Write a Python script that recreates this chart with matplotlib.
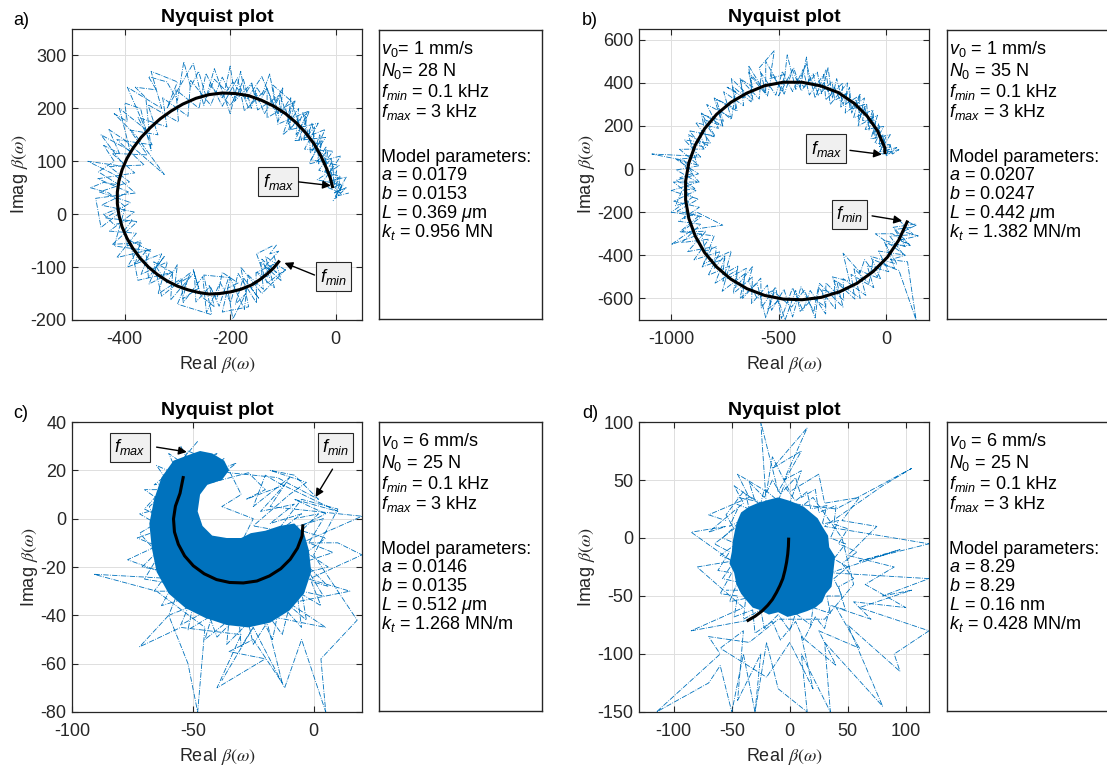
import numpy as np
import matplotlib
matplotlib.use('Agg')
from matplotlib import pyplot as plt

# Fuentes: estilo MATLAB (Helvetica ~ Liberation Sans)
plt.rcParams['font.family'] = ['Liberation Sans', 'DejaVu Sans']
plt.rcParams['mathtext.fontset'] = 'custom'
plt.rcParams['mathtext.rm'] = 'Liberation Sans'
plt.rcParams['mathtext.it'] = 'Liberation Sans:italic'
plt.rcParams['mathtext.bf'] = 'Liberation Sans:bold'
plt.rcParams['axes.unicode_minus'] = False

BLUE = '#0072BD'
DARK = '#262626'

# ---------------- Datos ----------------
# Panel a) medicion: excursiones grandes
a_re = [-112, -125, -108, -135, -112, -140, -125, -150, -118, -160, -145, -175, -190, -170, -195, -205,
        -185, -215, -225, -240, -230, -255, -270, -260, -290, -280, -305, -300, -320, -340, -325, -355,
        -360, -380, -370, -395, -400, -385, -420, -440, -400, -430, -465, -440, -410, -450, -420, -440,
        -410, -430, -400, -325, -380, -420, -395, -400, -370, -350, -360, -380, -340, -355, -320, -300,
        -288, -275, -260, -245, -230, -210, -200, -190, -175, -160, -150, -140, -125, -115, -100, -105,
        -85, -90, -70, -75, -55, -60, -40, -45, -25, -35, -15, -20, -5, -10, 5, -2, 20, 0, 12, 5, 25]
a_im = [-58, -75, -70, -100, -110, -85, -120, -110, -95, -140, -160, -120, -170, -150, -198, -140,
        -130, -110, -160, -135, -175, -155, -105, -140, -160, -120, -135, -95, -130, -100, -80, -120,
        -70, -95, -50, -60, -30, -10, -20, 0, 15, 40, 50, 60, 55, 80, 100, 130,
        115, 160, 140, 75, 150, 190, 175, 210, 200, 120, 220, 240, 235, 260, 250, 215,
        288, 240, 270, 220, 255, 235, 280, 215, 255, 200, 240, 225, 265, 210, 240, 190,
        220, 170, 200, 150, 185, 140, 165, 120, 140, 100, 120, 80, 100, 60, 70, 40, 50, 30, 55, 35, 40]
# Panel a) banda densa arriba a la derecha
a_re2 = [-240, -215, -195, -175, -160, -145, -130, -118, -105, -92, -82, -70, -62, -52, -45, -38,
         -30, -28, -18, -20, -8, -10, 2, -4, 10, 0, 15]
a_im2 = [245, 220, 250, 222, 245, 212, 238, 200, 225, 185, 210, 170, 192, 150, 172, 128,
         150, 110, 128, 92, 105, 70, 82, 50, 58, 42, 48]
a_re3 = [-220, -200, -180, -165, -150, -135, -120, -110, -95, -85, -72, -65, -50, -48, -35, -32,
         -22, -15, -5, -3, 8, 2]
a_im3 = [230, 205, 238, 200, 228, 190, 215, 175, 200, 160, 182, 140, 160, 115, 135, 95,
         112, 75, 88, 55, 65, 35]
# Panel a) zigzag fino a lo largo de todo el arco
a_re4 = [-95, -133, -116, -151, -150, -185, -199, -219, -245, -252, -289, -293, -337, -319, -369, -351,
         -415, -378, -429, -382, -444, -393, -451, -381, -424, -357, -390, -337, -356, -298, -303, -259,
         -246, -215, -186, -173, -130, -130, -77, -89, -33, -59, -5, -32, 10, -16, 10]
a_im4 = [-106, -80, -139, -110, -168, -112, -167, -129, -186, -118, -167, -122, -151, -90, -114, -67,
         -82, -36, -32, 4, 17, 42, 67, 78, 115, 112, 159, 150, 207, 174, 235, 200,
         266, 204, 258, 195, 238, 182, 214, 159, 172, 123, 119, 83, 71, 51, 40]
a_re5 = [-117, -103, -142, -137, -166, -173, -202, -221, -238, -265, -268, -313, -309, -354, -330, -395,
         -368, -423, -376, -436, -389, -448, -391, -429, -363, -415, -348, -375, -320, -328, -280, -275,
         -237, -215, -192, -159, -148, -105, -110, -53, -77, -19, -47, 7, -35, 14, 0]
a_im5 = [-78, -126, -91, -142, -115, -180, -117, -174, -136, -166, -110, -162, -109, -132, -75, -100,
         -54, -57, -14, -7, 22, 42, 61, 90, 93, 141, 131, 183, 165, 220, 185, 253,
         206, 259, 213, 248, 197, 226, 170, 194, 139, 145, 103, 92, 65, 55, 35]
# Panel a) trazo irregular con retrocesos
a_re6 = [-120, -150, -130, -95, -140, -180, -165, -215, -200, -250, -235, -300, -275, -330, -345, -310,
         -375, -390, -350, -420, -400, -445, -455, -380, -420, -470, -400, -445, -390, -410, -360, -395,
         -330, -350, -300, -320, -270, -250, -230, -200, -180, -170, -140, -110, -120, -80, -100, -50,
         -70, -20, -50, 10, -25, 20, -5]
a_im6 = [-60, -75, -130, -105, -150, -100, -175, -185, -120, -115, -190, -170, -110, -155, -90, -110,
         -125, -50, -70, -60, 10, -25, 30, 40, 75, 100, 90, 150, 120, 200, 160, 240,
         200, 270, 250, 200, 285, 205, 275, 190, 270, 215, 260, 190, 245, 210, 150, 195,
         140, 160, 95, 110, 60, 70, 25]
# Panel a) modelo
a_mod_re = [-108, -118, -130, -144, -160, -180, -200, -220, -240, -260, -280, -300, -320, -338, -355,
            -371, -385, -396, -405, -411, -414, -414, -411, -405, -396, -384, -369, -352, -333, -312,
            -290, -265, -240, -215, -190, -165, -140, -117, -95, -75, -57, -41, -28, -17, -10, -6]
a_mod_im = [-90, -102, -113, -124, -134, -142, -147, -150, -151, -148, -143, -136, -126, -114, -100,
            -83, -64, -45, -24, -2, 20, 42, 63, 84, 105, 125, 145, 163, 180, 195,
            208, 219, 226, 229, 228, 224, 215, 204, 190, 173, 154, 133, 110, 86, 68, 52]

# Panel b) medicion: excursiones grandes
b_re = [100, 140, 80, 150, 60, 110, 30, -50, 90, 20, 100, 140, 60, -20, -40, -100, -120, -200,
        -170, -250, -220, -300, -280, -340, -400, -420, -470, -500, -550, -520, -600, -640, -620,
        -700, -690, -760, -750, -800, -790, -840, -860, -1000, -900, -760, -880, -940, -920, -980,
        -950, -890, -960, -900, -940, -1090, -880, -910, -840, -870, -800, -850, -760, -780, -720,
        -700, -740, -660, -680, -620, -640, -560, -590, -520, -540, -470, -500, -430, -400, -370,
        -360, -320, -300, -270, -250, -230, -200, -170, -160, -120, -130, -90, -80, -60, -50, -30,
        -30, -10, 0, 20, 30, 60, 10]
b_im = [-245, -260, -290, -310, -330, -350, -300, -300, -400, -420, -430, -700, -470, -440, -500,
        -420, -480, -390, -520, -500, -580, -560, -640, -600, -660, -560, -700, -610, -650, -560,
        -600, -520, -450, -550, -450, -490, -400, -460, -360, -380, -300, -350, -280, -260, -200,
        -230, -150, -170, -100, -90, -40, -20, 40, 70, 60, 120, 100, 170, 150, 230, 200, 280, 230,
        360, 380, 330, 420, 380, 450, 360, 470, 550, 420, 440, 340, 470, 380, 520, 400, 450, 350,
        470, 330, 420, 300, 380, 260, 350, 220, 300, 180, 260, 140, 200, 100, 140, 60, 110, 70, 90, 80]
# Panel b) banda densa arriba a la derecha
b_re2 = [-420, -380, -350, -320, -290, -260, -240, -210, -190, -160, -140, -120, -100, -80, -65,
         -50, -35, -25, -15, -5, 10]
b_im2 = [420, 380, 420, 360, 400, 340, 380, 310, 350, 280, 320, 250, 290, 210, 250, 170, 210,
         130, 160, 90, 110]
# Panel b) zigzag fino a lo largo del arco
b_re4 = [137, 33, 113, -1, 51, -71, -25, -125, -94, -200, -197, -280, -281, -353, -387, -435, -487,
         -514, -581, -583, -668, -658, -763, -728, -828, -772, -894, -825, -951, -863, -966, -869,
         -988, -885, -978, -873, -976, -863, -938, -816, -886, -780, -835, -722, -756, -663, -677,
         -590, -581, -513, -483, -435, -386, -357, -290, -281, -201, -211, -122, -151, -60, -97, -11,
         -52, 21, -23, 30]
b_im4 = [-255, -270, -355, -350, -441, -405, -510, -470, -586, -508, -610, -528, -672, -563, -656,
         -551, -693, -547, -644, -506, -600, -486, -567, -449, -493, -383, -421, -325, -341, -256,
         -242, -177, -149, -100, -52, -22, 45, 56, 135, 120, 216, 189, 300, 241, 359, 294, 416,
         325, 445, 343, 453, 360, 463, 344, 439, 322, 400, 288, 342, 238, 274, 184, 198, 121, 113,
         70, 75]
b_re5 = [59, 127, 18, 82, -35, 13, -88, -57, -163, -145, -241, -235, -315, -336, -396, -435, -475,
         -533, -552, -626, -622, -711, -694, -796, -750, -856, -808, -924, -838, -961, -870, -972,
         -873, -1000, -878, -976, -870, -961, -847, -916, -796, -856, -757, -792, -693, -715, -628,
         -627, -552, -531, -474, -435, -394, -339, -316, -251, -239, -171, -168, -99, -109, -47, -60,
         0, -24, 10, 0]
b_im5 = [-235, -304, -311, -398, -380, -476, -447, -550, -488, -603, -515, -650, -547, -661, -546,
         -686, -558, -655, -538, -624, -501, -577, -469, -529, -415, -454, -361, -383, -288, -292,
         -216, -195, -139, -100, -61, -4, 16, 92, 93, 178, 153, 253, 222, 325, 269, 385, 312, 428,
         339, 441, 348, 460, 363, 442, 343, 406, 319, 358, 276, 300, 225, 226, 164, 151, 92, 85, 65]
# Panel b) trazo irregular con retrocesos
b_re6 = [120, 40, 90, -10, 40, -60, -80, -150, -120, -230, -200, -310, -330, -380, -440, -520, -560,
         -600, -680, -650, -760, -720, -850, -800, -950, -860, -1000, -900, -990, -870, -960, -880,
         -920, -830, -860, -760, -800, -700, -720, -620, -640, -560, -560, -480, -460, -420, -370,
         -330, -280, -260, -180, -190, -100, -130, -40, -70, 20, -30, 50, 0]
b_im6 = [-270, -280, -360, -330, -460, -420, -530, -460, -600, -520, -640, -530, -690, -560, -640,
         -570, -690, -530, -600, -460, -520, -380, -440, -310, -290, -220, -200, -130, -60, -60, 40,
         20, 160, 110, 260, 200, 330, 280, 420, 320, 480, 350, 500, 360, 530, 370, 490, 330, 460,
         300, 400, 260, 330, 200, 250, 140, 160, 80, 100, 60]
# Panel b) modelo
b_mod_re = [98, 59, 6, -60, -134, -216, -302, -391, -479, -565, -647, -723, -789, -845, -888, -918,
            -933, -933, -918, -888, -845, -789, -722, -647, -565, -479, -391, -304, -222, -148, -88,
            -40, -6, -5]
b_mod_im = [-245, -330, -409, -475, -529, -569, -595, -606, -603, -586, -555, -510, -454, -387,
            -311, -229, -144, -56, 29, 112, 187, 254, 310, 353, 387, 403, 403, 386, 355, 305, 246,
            178, 100, 77]

# Panel c) nucleo denso (contorno) y trazos dispersos
c_core_re = [-50, -58, -63, -66, -68, -67, -65, -60, -53, -45, -36, -27, -18, -10, -4, -1, -2, -4,
             -8, -14, -20, -26, -30, -36, -42, -46, -48, -47, -44, -38, -35, -37, -42, -47]
c_core_im = [27, 24, 17, 8, -2, -12, -22, -31, -37, -41, -44, -45, -43, -38, -31, -22, -13, -6,
             -2, -3, -5, -6, -8, -8, -7, -3, 3, 10, 14, 16, 20, 24, 27, 28]
c_re = [-5, 5, -8, 10, -15, -20, -25, -10, -18, 20, -5, 10, 20, -2, 15, -10, 5, -20, -13, -25,
        -35, -20, -40, -30, -55, -72, -60, -52, -48, -45, -65, -91, -55, -77, -62, -68, -60, -66,
        -55, -52, -45, -40, -47, -35, -30, -38, -25, -30, -15, -5, 10, 0, 18, 3, 5, -5, -12, -25, -38]
c_im = [-3, 2, 8, 3, 15, 18, 5, 17, 5, 1, -10, -10, -15, -25, -30, -35, -45, -40, -68, -50, -55,
        -58, -70, -48, -45, -53, -40, -60, -80, -45, -30, -23, -25, -17, -10, 5, 12, -5, 22, 28, 25,
        27, 18, 20, 10, 5, 0, -10, -5, 8, 4, -15, -42, -58, -80, -50, -70, -45, -67]
c_re2 = [-55, -50, -60, -56, -65, -58, -70, -60, -72, -62, -73, -63, -71, -60, -66, -56, -60, -50,
         -52, -42, -45, -35, -36, -27, -25, -18, -13, -10, -3, -5, 4, -2, 6, -3, 5, -5, 2, -8]
c_im2 = [30, 20, 27, 18, 22, 12, 12, 5, 2, -4, -8, -12, -20, -22, -30, -30, -40, -36, -46, -40,
         -50, -42, -52, -43, -52, -41, -48, -36, -42, -30, -32, -22, -20, -14, -8, -5, 2, 0]
c_re3 = [-37, -45, -32, -42, -27, -20, -28, -12, -22, -8, -18, -5, -14, -25, -10, -3, -18, -8, 2,
         -15, -35, -52]
c_im3 = [25, 18, 23, 15, 19, 12, 8, 14, 3, 6, -2, 2, -5, -3, 10, 15, 20, 18, 8, 17, 19, 25]
c_re4 = [-48, -58, -52, -66, -60, -70, -62, -72, -64, -70, -58, -63, -50, -55, -44, -40, -31, -30,
         -22, -17, -14, -5, -7, 3, -1, 6, -4, 8, -2, 4, -10]
c_im4 = [32, 20, 25, 14, 15, 4, 0, -6, -15, -25, -27, -36, -32, -44, -38, -49, -40, -53, -40, -50,
         -35, -45, -30, -36, -26, -28, -18, -14, -10, 0, -4]
c_mod_re = [-54, -55.3, -57.2, -58, -57.6, -56, -53.4, -49.8, -45.3, -40.2, -34.8, -29.1, -23.5,
            -18.3, -13.6, -9.7, -6.7, -4.8, -4.5]
c_mod_im = [17, 10.5, 5.2, -0.1, -5.5, -10.6, -15.4, -19.5, -22.8, -25.2, -26.4, -26.6, -25.8,
            -23.7, -20.7, -16.8, -12.2, -7.2, -3]

# Panel d) nucleo denso y trazos dispersos
d_core_re = [-42, -35, -28, -18, -10, 0, 5, 12, 18, 24, 28, 33, 34, 39, 38, 37, 36, 31, 28, 22,
             15, 6, -2, -10, -18, -26, -32, -38, -42, -46, -48, -52, -50, -49, -47, -45]
d_core_im = [22, 27, 30, 33, 35, 32, 30, 27, 22, 17, 10, 2, -8, -16, -25, -34, -42, -48, -55,
             -60, -63, -66, -68, -64, -66, -62, -60, -53, -48, -40, -30, -22, -12, -2, 8, 15]
d_re = [-36, -85, -40, -80, -50, -85, -55, -70, -40, -48, -20, -25, -10, 10, -15, 15, -5, 10, 0,
        40, 105, 80, 30, 120, 60, 95, 35, 120, 80, 105, 60, 120, 90, 95, 50, 80, 30, 35, 10, 15,
        -10, -20, -30, -40, -50, -60, -70, -115, -60, -70, -35, -10, 30, 55, 45, 20, -5, -30, -55]
d_im = [-71, -80, -60, -25, -20, 5, 10, 5, 30, 45, 25, 100, 40, 75, 60, 95, 50, 58, 30, 25, 60, 45,
        10, -5, -20, -10, -30, -35, -50, -45, -60, -80, -100, -115, -75, -145, -90, -150, -100, -150,
        -130, -90, -150, -100, -150, -110, -125, -150, -100, -85, -90, -70, -70, -40, 0, 35, 15, -45, -45]
d_re2 = [-45, -52, -42, -58, -46, -60, -48, -58, -45, -52, -38, -40, -25, -22, -10, 0, 5, 18, 20,
         35, 32, 45, 38, 50, 38, 48, 35, 42, 28, 32, 18, 15, 5, -5, -10, -22, -25, -38, -35, -48]
d_im2 = [25, 10, 15, 0, -5, -15, -20, -35, -38, -55, -52, -70, -62, -78, -66, -80, -65, -75, -60,
         -65, -50, -50, -35, -25, -18, -5, 0, 15, 12, 28, 25, 40, 32, 45, 32, 42, 30, 38, 25, 30]
d_re3 = [-30, -25, -45, -40, -60, -20, 0, 20, 10, 40, 25, 60, 40, 70, 55, 100, 65, 90, 50, 75, 45,
         60, 30, 25, 0, -15, -20, -45, -35, -70, -55]
d_im3 = [-150, -100, -140, -80, -95, -120, -90, -130, -85, -110, -80, -95, -60, -70, -55, -60, -40,
         -25, -15, 10, 15, 35, 30, 55, 40, 70, 40, 55, 35, 20, 15]
d_re4 = [-40, -55, -48, -65, -52, -62, -50, -60, -45, -48, -32, -30, -15, -8, 5, 12, 22, 30, 35, 48,
         42, 55, 45, 58, 42, 50, 38, 40, 25, 22, 10, 5, -8, -15, -22, -35, -30, -45]
d_im4 = [40, 20, 8, -5, -12, -28, -30, -48, -50, -68, -62, -82, -72, -88, -72, -88, -68, -78, -58,
         -62, -42, -35, -22, -12, -5, 8, 12, 28, 22, 42, 35, 52, 38, 50, 35, 48, 32, 35]
d_mod_re = [-1, -1.2, -1.8, -2.8, -4.2, -6, -8.5, -11.5, -15, -19, -24, -30, -36]
d_mod_im = [-1, -7, -14, -21, -28, -35, -41, -47, -53, -58, -63, -67.5, -71]

# Textos de los recuadros
params_a = ['$v_{\\mathit{0}}$= 1 mm/s', '$N_{\\mathit{0}}$= 28 N', '$f_{min}$ = 0.1 kHz', '$f_{max}$ = 3 kHz',
            'Model parameters:', '$a$ = 0.0179', '$b$ = 0.0153', '$L$ = 0.369 $\\mu$m', '$k_t$ = 0.956 MN']
params_b = ['$v_{\\mathit{0}}$ = 1 mm/s', '$N_{\\mathit{0}}$ = 35 N', '$f_{min}$ = 0.1 kHz', '$f_{max}$ = 3 kHz',
            'Model parameters:', '$a$ = 0.0207', '$b$ = 0.0247', '$L$ = 0.442 $\\mu$m', '$k_t$ = 1.382 MN/m']
params_c = ['$v_{\\mathit{0}}$ = 6 mm/s', '$N_{\\mathit{0}}$ = 25 N', '$f_{min}$ = 0.1 kHz', '$f_{max}$ = 3 kHz',
            'Model parameters:', '$a$ = 0.0146', '$b$ = 0.0135', '$L$ = 0.512 $\\mu$m', '$k_t$ = 1.268 MN/m']
params_d = ['$v_{\\mathit{0}}$ = 6 mm/s', '$N_{\\mathit{0}}$ = 25 N', '$f_{min}$ = 0.1 kHz', '$f_{max}$ = 3 kHz',
            'Model parameters:', '$a$ = 8.29', '$b$ = 8.29', '$L$ = 0.16 nm', '$k_t$ = 0.428 MN/m']

# ---------------- Figura ----------------
W, H = 1107, 767
fig = plt.figure(figsize=(W / 100, H / 100), dpi=100)


def px_axes(l, t, r, b):
    # ejes definidos en pixeles (origen arriba a la izquierda)
    return fig.add_axes([l / W, 1 - b / H, (r - l) / W, (b - t) / H])


def nyquist(ax, paths, cores, model, xlim, ylim, xticks, yticks):
    for xs, ys in cores:
        ax.fill(xs, ys, color=BLUE, lw=0, zorder=2)
    for xs, ys in paths:
        ax.plot(xs, ys, ls='-.', lw=0.6, color=BLUE, zorder=2)
    ax.plot(model[0], model[1], color='k', lw=2.2, zorder=3)
    ax.set_xlim(xlim)
    ax.set_ylim(ylim)
    ax.set_xticks(xticks)
    ax.set_yticks(yticks)
    ax.grid(True, color='#dfdfdf', lw=0.7)
    ax.set_axisbelow(True)
    ax.tick_params(direction='in', top=True, right=True, length=4, width=0.8,
                   colors=DARK, labelsize=13)
    ax.tick_params(axis='x', pad=8)
    ax.tick_params(axis='y', pad=4)
    for s in ax.spines.values():
        s.set_color(DARK)
        s.set_linewidth(0.9)
    ax.set_title('Nyquist plot', fontsize=14, fontweight='bold', pad=5)
    ax.set_xlabel('Real $\\beta(\\omega)$', fontsize=13, color=DARK, labelpad=4, math_fontfamily='stix')
    ax.set_ylabel('Imag $\\beta(\\omega)$', fontsize=13, color=DARK, labelpad=0, math_fontfamily='stix')


def marker_box(ax, x, y, txt, tail, head):
    ax.text(x, y, txt, ha='center', va='center', fontsize=13, zorder=5,
            bbox=dict(boxstyle='square,pad=0.25', fc='#f0f0f0', ec=DARK, lw=0.8))
    ax.annotate('', xy=head, xytext=tail, zorder=5,
                arrowprops=dict(arrowstyle='-|>', color='k', lw=1, mutation_scale=12,
                                shrinkA=0, shrinkB=0))


def param_box(l, t, r, b, lines):
    ax = px_axes(l, t, r, b)
    ax.set_xticks([])
    ax.set_yticks([])
    for s in ax.spines.values():
        s.set_color(DARK)
        s.set_linewidth(1)
    baselines = [24, 46, 67, 87, 132, 150, 169, 188, 207]
    for txt, yb in zip(lines, baselines):
        fig.text((l + 2) / W, 1 - (t + yb) / H, txt, fontsize=13, va='baseline', color='k')


# a)
ax = px_axes(72, 29, 362, 320)
nyquist(ax, [(a_re, a_im), (a_re2, a_im2), (a_re3, a_im3), (a_re4, a_im4), (a_re5, a_im5), (a_re6, a_im6)],
        [], (a_mod_re, a_mod_im), (-500, 50), (-200, 350), [-400, -200, 0], [-200, -100, 0, 100, 200, 300])
marker_box(ax, -109, 61, '$f_{max}$', (-70, 61), (-9, 54))
marker_box(ax, -4, -118, '$f_{min}$', (-40, -115), (-97, -92))
param_box(379, 30, 542, 319, params_a)

# b)
ax = px_axes(639, 29, 929, 320)
nyquist(ax, [(b_re, b_im), (b_re2, b_im2), (b_re4, b_im4), (b_re5, b_im5), (b_re6, b_im6)], [],
        (b_mod_re, b_mod_im), (-1150, 200), (-700, 650), [-1000, -500, 0], [-600, -400, -200, 0, 200, 400, 600])
marker_box(ax, -278, 94, '$f_{max}$', (-168, 87), (-19, 68))
marker_box(ax, -170, -210, '$f_{min}$', (-65, -217), (75, -240))
param_box(947, 30, 1109, 319, params_b)

# c)
ax = px_axes(72, 422, 362, 712)
nyquist(ax, [(c_re, c_im), (c_re2, c_im2), (c_re3, c_im3), (c_re4, c_im4)], [(c_core_re, c_core_im)],
        (c_mod_re, c_mod_im), (-100, 20), (-80, 40), [-100, -50, 0], [-80, -60, -40, -20, 0, 20, 40])
marker_box(ax, -76, 29.5, '$f_{max}$', (-65, 29.6), (-52.5, 27.6))
marker_box(ax, 9, 29.6, '$f_{min}$', (7.8, 20.5), (0.8, 9))
param_box(379, 422, 542, 711, params_c)

# d)
ax = px_axes(639, 422, 929, 712)
nyquist(ax, [(d_re, d_im), (d_re2, d_im2), (d_re3, d_im3), (d_re4, d_im4)], [(d_core_re, d_core_im)],
        (d_mod_re, d_mod_im), (-130, 120), (-150, 100), [-100, -50, 0, 50, 100], [-150, -100, -50, 0, 50, 100])
param_box(947, 422, 1109, 711, params_d)

# Etiquetas de panel
for lab, x, y in [('a)', 13, 25), ('b)', 582, 25), ('c)', 13, 418), ('d)', 582, 418)]:
    fig.text(x / W, 1 - y / H, lab, fontsize=13, va='baseline')

fig.savefig('out.png', dpi=100)
